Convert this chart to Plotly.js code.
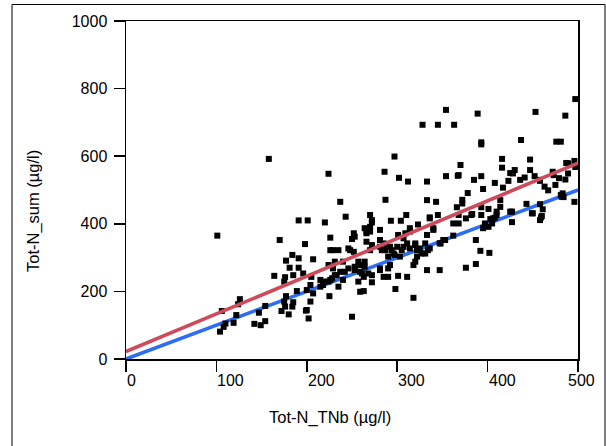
<!DOCTYPE html>
<html>
<head>
<meta charset="utf-8">
<script src="https://cdn.plot.ly/plotly-3.0.1.min.js"></script>
<style>html,body{margin:0;padding:0;background:#fff;}#chart{width:606px;height:446px;}</style>
</head>
<body>
<div id="chart"></div>
<script>
// Measured points: Tot-N_TNb (x) vs Tot-N_sum (y), µg/l
const tnb = [
497,354,453,389,486,328,345,363,437,393,393,476,481,158,297,416,447,496,487,497,
370,416,224,286,302,312,333,354,367,393,385,408,425,430,447,423,436,441,452,458,
463,467,472,475,479,486,489,395,378,417,372,372,366,393,414,414,401,425,443,458,
461,481,484,496,383,393,450,459,410,368,368,376,403,408,405,395,401,427,458,460,
387,392,402,387,376,237,287,333,343,243,270,310,336,345,191,201,101,170,220,226,
198,177,184,191,207,181,191,196,185,176,175,164,205,224,215,218,224,204,200,189,
177,175,185,176,184,172,180,199,202,225,126,124,106,122,154,147,154,149,142,119,
110,108,104,293,304,323,336,340,314,309,301,281,272,270,264,266,252,250,253,229,
235,246,252,266,272,270,281,287,292,300,305,296,303,314,320,325,331,336,347,353,
362,333,231,240,246,253,259,264,261,263,272,272,257,240,233,228,235,229,281,285,
290,292,301,311,298,263,259,318,250,333,347,318,322,283,288,294,297,290,307,311,
285,281,307,314,320,322,320,327,334,331,340,348,351,272,270,266,248,226,257,253,
259,264,268,281,290,242,237,231,226,220,215,207,204,200,428,458,473,489,483,482,
449,427,410,406,397,362,382,368
];
const tnSum = [
769,737,731,726,720,693,693,693,648,641,635,643,643,592,599,592,590,586,580,568,
574,566,548,554,536,525,525,541,542,541,530,521,550,559,559,527,530,537,541,527,
510,499,554,515,535,531,549,503,491,507,471,460,449,449,470,450,444,436,459,458,
443,485,479,465,429,426,431,419,426,426,401,416,414,418,401,387,391,405,411,423,
352,320,314,281,270,465,471,470,465,421,426,426,419,426,410,410,365,352,404,359,
340,291,308,298,295,270,270,253,248,242,229,246,243,278,234,219,229,219,204,201,
186,170,168,155,155,142,132,143,120,186,177,162,142,130,157,137,112,100,104,107,
105,95,81,409,409,398,416,387,387,372,367,382,404,377,387,372,372,355,362,322,
322,327,317,347,337,322,332,322,332,332,322,312,303,327,337,327,312,327,342,352,
365,367,288,288,268,263,278,288,253,243,248,227,229,234,248,239,214,268,268,243,
243,278,246,243,207,201,199,181,125,263,263,278,303,322,332,322,308,303,332,342,
342,352,357,377,342,322,288,312,322,342,382,342,352,411,391,377,322,322,288,273,
258,273,253,263,268,258,258,248,234,229,214,194,170,145,549,530,544,579,490,480,
431,436,436,416,401,401,426,544
];
// Reference lines
const lineX = [0, 500];
const oneToOne = [0, 500];
const fitY = [22, 579.5];

const xTickVals = [0, 100, 200, 300, 400, 500];
const xTickText = ['0', '100', '200', '300', '400', '500'];
const yTickVals = [0, 200, 400, 600, 800, 1000];
const yTickText = ['0', '200', '400', '600', '800', '1000'];

const xTitle = 'Tot-N_TNb (µg/l)';
const yTitle = 'Tot-N_sum (µg/l)';

const FONT = 'Liberation Sans, Arial, sans-serif';

const traces = [
  {x: lineX, y: oneToOne, type: 'scatter', mode: 'lines',
   line: {color: 'rgb(45,110,240)', width: 3.6}, hoverinfo: 'skip', cliponaxis: false},
  {x: tnb, y: tnSum, type: 'scatter', mode: 'markers',
   marker: {symbol: 'square', size: 6, color: '#000', line: {width: 0}}, cliponaxis: false},
  {x: lineX, y: fitY, type: 'scatter', mode: 'lines',
   line: {color: 'rgb(205,75,90)', width: 3.6}, hoverinfo: 'skip', cliponaxis: false}
];

const annotations = xTickVals.map((v, i) => ({
  x: v, xref: 'x', y: 0, yref: 'paper',
  text: xTickText[i], showarrow: false,
  xanchor: i === xTickVals.length - 1 ? 'center' : 'left',
  xshift: i === xTickVals.length - 1 ? 3 : -1,
  yanchor: 'middle', yshift: -21,
  font: {family: FONT, size: 16, color: '#000'}
}));
annotations.push({
  x: (329.5 - 126) / 452, xref: 'paper', y: (359 - 417) / 338, yref: 'paper',
  text: xTitle, showarrow: false, xanchor: 'center', yanchor: 'middle',
  font: {family: FONT, size: 16.5, color: '#000'}
});
annotations.push({
  x: (33 - 126) / 452, xref: 'paper', y: (359 - 211) / 338, yref: 'paper',
  text: yTitle, showarrow: false, xanchor: 'center', yanchor: 'middle', textangle: -90,
  font: {family: FONT, size: 16.5, color: '#000'}
});

const layout = {
  width: 606, height: 446,
  margin: {l: 126, r: 28, t: 21, b: 87, pad: 0},
  paper_bgcolor: '#fff', plot_bgcolor: '#fff',
  showlegend: false,
  font: {family: FONT, size: 16, color: '#000'},
  xaxis: {
    range: [0, 500], showgrid: false, zeroline: false,
    showline: true, linecolor: '#000', linewidth: 1.5, mirror: true,
    ticks: 'outside', ticklen: 11, tickwidth: 1.5, tickcolor: '#000',
    tickmode: 'array', tickvals: xTickVals, showticklabels: false
  },
  yaxis: {
    range: [0, 1000], showgrid: false, zeroline: false,
    showline: true, linecolor: '#000', linewidth: 1.5, mirror: true,
    ticks: 'outside', ticklen: 11, tickwidth: 1.5, tickcolor: '#000',
    tickmode: 'array', tickvals: yTickVals, ticktext: yTickText,
    ticklabelstandoff: 3,
    tickfont: {family: FONT, size: 16, color: '#000'}
  },
  annotations: annotations,
  shapes: [{
    type: 'rect', xref: 'paper', yref: 'paper',
    x0: (12 - 126) / 452, x1: (605 - 126) / 452,
    y0: (359 - 460) / 338, y1: (359 - 4.5) / 338,
    line: {color: '#000', width: 1}, fillcolor: 'rgba(0,0,0,0)', layer: 'below'
  }]
};

Plotly.newPlot('chart', traces, layout, {displayModeBar: false, staticPlot: true});
</script>
</body>
</html>
